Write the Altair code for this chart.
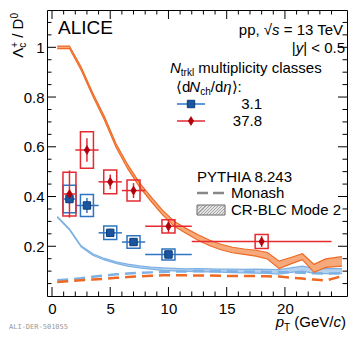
import altair as alt
import pandas as pd

# ---------------- data ----------------
pt = [1.5, 3.0, 5.0, 7.0, 10.0, 18.0]
pt_lo = [1, 2, 4, 6, 8, 12]
pt_hi = [2, 4, 6, 8, 12, 24]
hm_val = [0.410, 0.587, 0.459, 0.424, 0.280, 0.219]
hm_stat = [0.095, 0.047, 0.030, 0.030, 0.026, 0.022]
hm_syst = [0.088, 0.073, 0.048, 0.042, 0.027, 0.028]
lm_val = [0.390, 0.364, 0.254, 0.217, 0.167]
lm_stat = [0.020, 0.030, 0.016, 0.016, 0.016]
lm_syst = [0.055, 0.044, 0.027, 0.025, 0.022]

model_pt = [0.45, 1.5, 2.5, 3.5, 4.5, 5.5, 6.5, 7.5, 8.5, 9.5, 10.5, 11.5, 12.5,
            13.5, 14.5, 15.5, 16.5, 17.5, 18.5, 19.5, 20.5, 21.5, 22.5, 23.5, 24.9]
crblc_hm = [1.0, 1.0, 0.915, 0.81, 0.715, 0.605, 0.52, 0.448, 0.39, 0.335, 0.29, 0.262,
            0.236, 0.214, 0.197, 0.185, 0.178, 0.172, 0.162, 0.125, 0.142, 0.158, 0.111,
            0.132, 0.139]
crblc_hm_err = [0.005, 0.005, 0.006, 0.006, 0.007, 0.007, 0.008, 0.008, 0.009, 0.009, 0.010,
                0.010, 0.011, 0.011, 0.011, 0.011, 0.011, 0.012, 0.013, 0.015, 0.013, 0.012,
                0.016, 0.017, 0.019]
crblc_lm = [0.318, 0.268, 0.200, 0.167, 0.148, 0.134, 0.124, 0.117, 0.112, 0.108, 0.106,
            0.104, 0.104, 0.103, 0.102, 0.101, 0.100, 0.100, 0.099, 0.097, 0.104, 0.110,
            0.101, 0.100, 0.100]
crblc_lm_err = [0.002, 0.002, 0.002, 0.003, 0.003, 0.003, 0.004, 0.004, 0.004, 0.005, 0.005,
                0.005, 0.006, 0.006, 0.006, 0.007, 0.007, 0.008, 0.008, 0.009, 0.009, 0.010,
                0.010, 0.010, 0.010]
monash_hm = [0.056, 0.060, 0.063, 0.066, 0.069, 0.073, 0.076, 0.079, 0.081, 0.083, 0.083,
             0.083, 0.082, 0.082, 0.081, 0.080, 0.080, 0.080, 0.079, 0.078, 0.074, 0.070,
             0.066, 0.062, 0.080]
monash_lm = [0.063, 0.067, 0.071, 0.077, 0.082, 0.087, 0.090, 0.093, 0.095, 0.097, 0.098,
             0.099, 0.100, 0.100, 0.100, 0.099, 0.098, 0.098, 0.097, 0.096, 0.095, 0.093,
             0.091, 0.090, 0.092]

x_major = [0, 5, 10, 15, 20]
x_minor = [v for v in range(1, 25) if v % 5 != 0]
y_major = [0.2, 0.4, 0.6, 0.8, 1.0]
y_minor = [round(0.05 * i, 2) for i in range(1, 23) if i % 4 != 0]

# ---------------- styling helpers ----------------
FONT = "Liberation Sans"
W, H = 300, 286
RED = "#e52a30"
RED_DARK = "#b0000c"
BLUE = "#2f74c0"
BLUE_DARK = "#1a559f"
ORANGE = "#ee6a24"
ORANGE_FILL = "#f6aa7c"
LBLUE = "#7db1e4"
LBLUE_FILL = "#b5d1ef"

xs = alt.Scale(domain=[0, 24.9], nice=False, zero=False)
ys = alt.Scale(domain=[0, 1.15], nice=False, zero=False)
xaxis = alt.Axis(values=x_major, ticks=False, domain=False, grid=False, labelFontSize=15,
                 labelFont=FONT, labelColor="black", labelPadding=5, labelFlush=False,
                 labelOverlap=False, labelExpr="format(datum.value, 'd')")
yaxis = alt.Axis(values=y_major, ticks=False, domain=False, grid=False, labelFontSize=15,
                 labelFont=FONT, labelColor="black", labelPadding=3, labelFlush=False,
                 labelOverlap=False,
                 labelExpr="datum.value == 1 ? '1' : format(datum.value, '.1f')")


def X(f):
    return alt.X(f, type="quantitative", scale=xs, axis=xaxis, title="")


def Y(f):
    return alt.Y(f, type="quantitative", scale=ys, axis=yaxis, title="")


layers = []

# ---------------- models ----------------
mdf = pd.DataFrame({
    "x": model_pt,
    "hm_lo": [c - e for c, e in zip(crblc_hm, crblc_hm_err)],
    "hm_hi": [c + e for c, e in zip(crblc_hm, crblc_hm_err)],
    "lm_lo": [c - e for c, e in zip(crblc_lm, crblc_lm_err)],
    "lm_hi": [c + e for c, e in zip(crblc_lm, crblc_lm_err)],
    "mon_hm": monash_hm,
    "mon_lm": monash_lm,
})
base = alt.Chart(mdf)
layers.append(base.mark_area(color=LBLUE_FILL, opacity=1).encode(x=X("x"), y=Y("lm_lo"), y2="lm_hi"))
layers.append(base.mark_line(color=LBLUE, strokeWidth=1.2).encode(x=X("x"), y=Y("lm_lo")))
layers.append(base.mark_line(color=LBLUE, strokeWidth=1.2).encode(x=X("x"), y=Y("lm_hi")))
layers.append(base.mark_line(color=LBLUE, strokeWidth=2.5, strokeDash=[11, 6]).encode(x=X("x"), y=Y("mon_lm")))
layers.append(base.mark_line(color=ORANGE, strokeWidth=2.5, strokeDash=[11, 6]).encode(x=X("x"), y=Y("mon_hm")))
layers.append(base.mark_area(color=ORANGE_FILL, opacity=1).encode(x=X("x"), y=Y("hm_lo"), y2="hm_hi"))
layers.append(base.mark_line(color=ORANGE, strokeWidth=1.2).encode(x=X("x"), y=Y("hm_lo")))
layers.append(base.mark_line(color=ORANGE, strokeWidth=1.2).encode(x=X("x"), y=Y("hm_hi")))

# ---------------- data points ----------------
def series_df(vals, stat, syst):
    n = len(vals)
    return pd.DataFrame({
        "pt": pt[:n], "lo": pt_lo[:n], "hi": pt_hi[:n], "v": vals,
        "elo": [v - e for v, e in zip(vals, stat)], "ehi": [v + e for v, e in zip(vals, stat)],
        "slo": [v - e for v, e in zip(vals, syst)], "shi": [v + e for v, e in zip(vals, syst)],
    })


lm = alt.Chart(series_df(lm_val, lm_stat, lm_syst))
hm = alt.Chart(series_df(hm_val, hm_stat, hm_syst))
for ch, col in ((lm, BLUE), (hm, RED)):
    layers.append(ch.mark_bar(size=13, fillOpacity=0, stroke=col, strokeWidth=1.5)
                  .encode(x=X("pt"), y=Y("slo"), y2="shi"))
    layers.append(ch.mark_rule(color=col, strokeWidth=1.5).encode(x=X("lo"), x2="hi", y=Y("v")))
    layers.append(ch.mark_rule(color=col, strokeWidth=1.5).encode(x=X("pt"), y=Y("elo"), y2="ehi"))

DIAMOND = "M0,-1L0.62,0L0,1L-0.62,0Z"
layers.append(lm.mark_point(shape="square", filled=True, size=55, fill=BLUE_DARK, stroke="#0e3a78",
                            strokeWidth=1, opacity=1).encode(x=X("pt"), y=Y("v")))
layers.append(hm.mark_point(shape=DIAMOND, filled=True, size=75, fill=RED_DARK, stroke=RED_DARK,
                            strokeWidth=0.8, opacity=1).encode(x=X("pt"), y=Y("v")))

# ---------------- inward ticks ----------------
def yticks(vals, length):
    c = alt.Chart(pd.DataFrame({"t": vals}))
    return [c.mark_rule(color="black", strokeWidth=1).encode(y=Y("t"), x=alt.value(0), x2=alt.value(length)),
            c.mark_rule(color="black", strokeWidth=1).encode(y=Y("t"), x=alt.value(W), x2=alt.value(W - length))]


def xticks(vals, length):
    c = alt.Chart(pd.DataFrame({"t": vals}))
    return [c.mark_rule(color="black", strokeWidth=1).encode(x=X("t"), y=alt.value(H), y2=alt.value(H - length)),
            c.mark_rule(color="black", strokeWidth=1).encode(x=X("t"), y=alt.value(0), y2=alt.value(length))]


layers += yticks(y_major, 9) + yticks(y_minor, 4.5) + xticks(x_major, 9) + xticks(x_minor, 4.5)

# ---------------- text helpers ----------------
CW = {' ': 278, '(': 333, ')': 333, '+': 584, ',': 278, '-': 333, '.': 278, '/': 278, ':': 278,
      '<': 584, '=': 584, '|': 260, '√': 549, 'Λ': 667, 'η': 556, '⟨': 333, '⟩': 333,
      'A': 667, 'B': 667, 'C': 722, 'D': 722, 'E': 667, 'G': 778, 'H': 722, 'I': 278, 'L': 556,
      'M': 833, 'N': 722, 'P': 667, 'R': 722, 'T': 611, 'V': 667, 'Y': 667, 'a': 556, 'c': 500,
      'd': 556, 'e': 556, 'h': 556, 'i': 222, 'k': 500, 'l': 222, 'm': 833, 'n': 556, 'o': 556,
      'p': 556, 'r': 333, 's': 500, 't': 278, 'u': 556, 'y': 500}


def tw(s, size):
    return sum(CW.get(ch, 556) for ch in s) * size / 1000.0


def text(s, x, y, size=15, italic=False, align="left", color="black", font=FONT, angle=0):
    kw = dict(align=align, baseline="alphabetic", fontSize=size, font=font, color=color)
    if italic:
        kw["fontStyle"] = "italic"
    if angle:
        kw["angle"] = angle
    return alt.Chart(pd.DataFrame({"t": [s]})).mark_text(**kw).encode(
        x=alt.value(x), y=alt.value(y), text="t:N")


def rich(pieces, x, y, align="left"):
    """pieces: (text, size, italic, dy, advance)"""
    total = sum(tw(p[0], p[1]) for p in pieces if p[4])
    if align == "right":
        x -= total
    out = []
    for s, size, it, dy, adv in pieces:
        lead = len(s) - len(s.lstrip(" "))
        out.append(text(s.strip(), x + tw(" " * lead, size), y + dy, size, it))
        if adv:
            x += tw(s, size)
    return out


def rich_vertical(pieces, x, y_top):
    """rotated 270 deg, text runs upward, ending at y_top"""
    total = sum(tw(p[0], p[1]) for p in pieces if p[4])
    y = y_top + total
    out = []
    for s, size, it, dx, adv in pieces:
        lead = len(s) - len(s.lstrip(" "))
        out.append(text(s.strip(), x + dx, y - tw(" " * lead, size), size, it, angle=270))
        if adv:
            y -= tw(s, size)
    return out


# ---------------- annotations ----------------
layers.append(text("ALICE", 11, 24, size=19))
layers += rich([("pp, √", 15, False, 0, True), ("s", 15, True, 0, True),
                (" = 13 TeV", 15, False, 0, True)], 298, 25, align="right")
layers += rich([("|", 15, False, 0, True), ("y", 15, True, 0, True),
                ("| < 0.5", 15, False, 0, True)], 298, 43, align="right")
layers += rich([("N", 15, True, 0, True), ("trkl", 10, False, 3, True),
                (" multiplicity classes", 15, False, 0, True)], 123, 63)
layers += rich([("⟨d", 15, False, 0, True), ("N", 15, True, 0, True), ("ch", 10, False, 3, True),
                ("/d", 15, False, 0, True), ("η", 15, True, 0, True), ("⟩:", 15, False, 0, True)],
               129, 82)

one = pd.DataFrame({"a": [0]})
# legend: 3.1
layers.append(alt.Chart(one).mark_rule(color=BLUE, strokeWidth=1.5).encode(
    x=alt.value(130), x2=alt.value(158), y=alt.value(94)))
layers.append(alt.Chart(one).mark_point(shape="square", filled=True, size=55, fill=BLUE_DARK,
                                        stroke="#0e3a78", strokeWidth=1, opacity=1).encode(
    x=alt.value(144), y=alt.value(94)))
layers.append(text("3.1", 215, 99, align="right"))
# legend: 37.8
layers.append(alt.Chart(one).mark_rule(color=RED, strokeWidth=1.5).encode(
    x=alt.value(130), x2=alt.value(158), y=alt.value(111)))
layers.append(alt.Chart(one).mark_point(shape=DIAMOND, filled=True, size=75, fill=RED_DARK,
                                        stroke=RED_DARK, strokeWidth=0.8, opacity=1).encode(
    x=alt.value(144), y=alt.value(111)))
layers.append(text("37.8", 215, 116, align="right"))

# PYTHIA legend
layers.append(text("PYTHIA 8.243", 150, 172))
layers.append(alt.Chart(one).mark_rule(color="#888888", strokeWidth=2.5, strokeDash=[11, 5]).encode(
    x=alt.value(150), x2=alt.value(177), y=alt.value(183)))
layers.append(text("Monash", 184, 188))
layers.append(alt.Chart(one).mark_rect(fill="#e4e4e4", stroke="#666666", strokeWidth=1).encode(
    x=alt.value(150), x2=alt.value(178), y=alt.value(195), y2=alt.value(205)))
for k in range(0, 28, 3):
    x0, x1 = 150 + k, 150 + k + 10
    y0, y1 = 205, 195
    if x1 > 178:
        y1 = 205 - (178 - x0)
        x1 = 178
    layers.append(alt.Chart(one).mark_rule(color="#888888", strokeWidth=0.7).encode(
        x=alt.value(x0), x2=alt.value(x1), y=alt.value(y0), y2=alt.value(y1)))
for k in range(1, 10, 3):
    layers.append(alt.Chart(one).mark_rule(color="#888888", strokeWidth=0.7).encode(
        x=alt.value(150), x2=alt.value(150 + 10 - k), y=alt.value(195 + 10 - k), y2=alt.value(195)))
layers.append(text("CR-BLC Mode 2", 184, 205))

# axis titles
layers += rich([("p", 15, True, 0, True), ("T", 10, False, 4, True), (" (GeV/", 15, False, 0, True),
                ("c", 15, True, 0, True), (")", 15, False, 0, True)], 299, 317, align="right")
layers += rich_vertical([("Λ", 15, False, 0, True), ("c", 10, False, 3, False),
                         ("+", 10, False, -5, True), (" / D", 15, False, 0, True),
                         ("0", 10, False, -5, True)], -24, 3)
layers.append(text("ALI-DER-501055", -38, 319, size=7, color="#9a9a9a", font="DejaVu Sans Mono"))

chart = alt.layer(*layers).properties(
    width=W, height=H,
    autosize=alt.AutoSizeParams(type="none"),
    padding={"left": 39, "top": 2, "right": 1, "bottom": 36},
).configure_view(stroke="black", strokeWidth=1)

chart.save("out.html", embed_options={"renderer": "svg", "actions": False})
